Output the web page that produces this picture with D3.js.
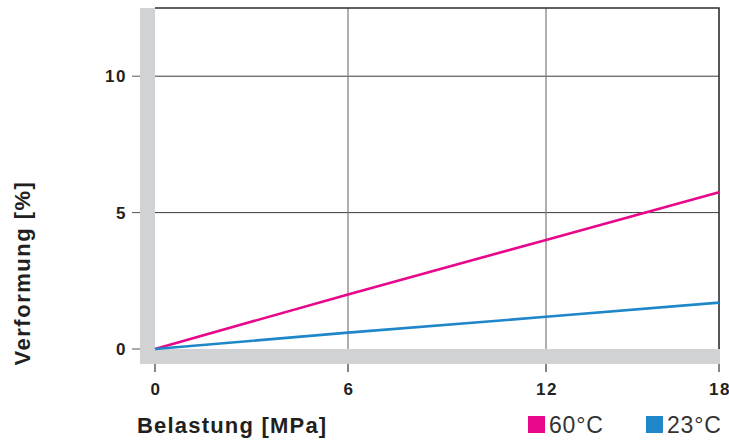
<!DOCTYPE html>
<html>
<head>
<meta charset="utf-8">
<script src="https://cdn.jsdelivr.net/npm/d3@7"></script>
<style>
  html, body { margin: 0; padding: 0; background: #fff; }
  svg { display: block; font-family: "Liberation Sans", Arial, sans-serif; }
</style>
</head>
<body>
<div id="chart"></div>
<script>
// Verformung vs. Belastung — two temperature series

// -------------------------------------------------------------------------
// Data
// -------------------------------------------------------------------------
const load = [0, 6, 12, 18];                 // Belastung [MPa]
const deform60 = [0, 2.0, 4.0, 5.75];        // Verformung [%] at 60°C
const deform23 = [0, 0.6, 1.18, 1.7];        // Verformung [%] at 23°C
const xTicks = [0, 6, 12, 18];
const yTicks = [0, 5, 10];
const seriesNames = ["60°C", "23°C"];
const seriesColors = ["#e8078b", "#1f87c9"];

// -------------------------------------------------------------------------
// Layout
// -------------------------------------------------------------------------
const W = 729, H = 443;
const plot = { left: 155, right: 719, top: 8, bottom: 349 };
const band = 15;
const ink = "#231f20";

const svg = d3.select("#chart").append("svg")
  .attr("width", W).attr("height", H);

// tick spacing in the original print is slightly uneven
const x = d3.scaleLinear()
  .domain(xTicks)
  .range([plot.left, plot.left + 193, plot.left + 391, plot.right]);
const y = d3.scaleLinear().domain([0, 12.5]).range([plot.bottom, plot.top]);

// gray bands along the axes
svg.append("rect")
  .attr("x", plot.left - band).attr("y", plot.top)
  .attr("width", band).attr("height", plot.bottom - plot.top + band)
  .attr("fill", "#d1d2d4");
svg.append("rect")
  .attr("x", plot.left - band).attr("y", plot.bottom)
  .attr("width", plot.right - plot.left + band + 1).attr("height", band)
  .attr("fill", "#d1d2d4");

// grid
svg.append("g").selectAll("line").data(yTicks.filter((d) => d > 0)).join("line")
  .attr("x1", plot.left).attr("x2", plot.right)
  .attr("y1", (d) => y(d)).attr("y2", (d) => y(d))
  .attr("stroke", "#3a3a3a").attr("stroke-width", 1);
svg.append("g").selectAll("line").data(xTicks.filter((d) => d > 0 && d < 18)).join("line")
  .attr("x1", (d) => x(d)).attr("x2", (d) => x(d))
  .attr("y1", plot.top).attr("y2", plot.bottom)
  .attr("stroke", "#7a7a7a").attr("stroke-width", 1.2);

// frame (top + right)
svg.append("path")
  .attr("d", `M${plot.left},${plot.top}H${plot.right}V${plot.bottom}`)
  .attr("fill", "none").attr("stroke", "#2e2e2e").attr("stroke-width", 1.6);

// y axis ticks + labels
const yAxis = svg.append("g");
yAxis.selectAll("line").data(yTicks).join("line")
  .attr("x1", plot.left - band - 8).attr("x2", plot.left - band)
  .attr("y1", (d) => y(d)).attr("y2", (d) => y(d))
  .attr("stroke", "#555").attr("stroke-width", 1);
yAxis.selectAll("text").data(yTicks).join("text")
  .attr("x", plot.left - band - 13).attr("y", (d) => y(d) + 6)
  .attr("text-anchor", "end")
  .attr("font-size", 17).attr("font-weight", "bold").attr("letter-spacing", 1.5)
  .attr("fill", ink)
  .text((d) => d);

// x axis ticks + labels
const xAxis = svg.append("g");
xAxis.selectAll("line").data(xTicks).join("line")
  .attr("x1", (d) => x(d)).attr("x2", (d) => x(d))
  .attr("y1", plot.bottom + band).attr("y2", plot.bottom + band + 8)
  .attr("stroke", "#333").attr("stroke-width", 1.2);
xAxis.selectAll("text").data(xTicks).join("text")
  .attr("x", (d) => x(d) + 1).attr("y", 395)
  .attr("text-anchor", "middle")
  .attr("font-size", 17).attr("font-weight", "bold").attr("letter-spacing", 1.5)
  .attr("fill", ink)
  .text((d) => d);

// axis titles
svg.append("text")
  .attr("x", 137).attr("y", 433)
  .attr("font-size", 22).attr("font-weight", "bold").attr("letter-spacing", 1.2)
  .attr("fill", ink)
  .text("Belastung [MPa]");
svg.append("text")
  .attr("transform", "translate(30,273) rotate(-90)")
  .attr("text-anchor", "middle")
  .attr("font-size", 22).attr("font-weight", "bold").attr("letter-spacing", 1.5)
  .attr("fill", ink)
  .text("Verformung [%]");

// series
const line = d3.line().x((d, i) => x(load[i])).y((d) => y(d));
[deform60, deform23].forEach((vals, i) => {
  svg.append("path")
    .datum(vals)
    .attr("d", line)
    .attr("fill", "none")
    .attr("stroke", seriesColors[i])
    .attr("stroke-width", 2.6);
});

// legend
const legendX = [528, 646];
const legend = svg.append("g").selectAll("g").data(seriesNames).join("g")
  .attr("transform", (d, i) => `translate(${legendX[i]},416)`);
legend.append("rect")
  .attr("width", 17).attr("height", 17)
  .attr("fill", (d, i) => seriesColors[i]);
legend.append("text")
  .attr("x", 21).attr("y", 17)
  .attr("font-size", 23).attr("letter-spacing", 0.8).attr("fill", "#333")
  .text((d) => d);
</script>
</body>
</html>
